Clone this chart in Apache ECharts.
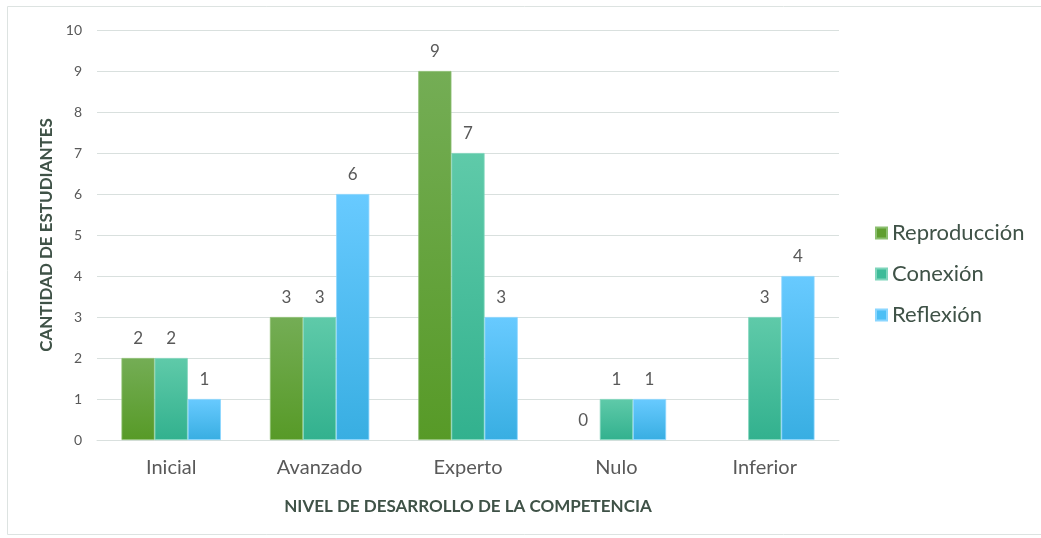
<!DOCTYPE html>
<html><head><meta charset="utf-8">
<script src="https://cdn.jsdelivr.net/npm/echarts@6/dist/echarts.min.js"></script>
<style>html,body{margin:0;padding:0;background:#fff}#c{width:1041px;height:538px}</style>
</head><body><div id="c"></div>
<script>
var categories = ['Inicial', 'Avanzado', 'Experto', 'Nulo', 'Inferior'];
var reproduccion = [2, 3, 9, 0, null];
var conexion = [2, 3, 7, 1, 3];
var reflexion = [1, 6, 3, 1, 4];
var yTicks = [0, 10, 1];

var FONT = 'Lato, "Open Sans", sans-serif';
function grad(top, bottom) {
  return new echarts.graphic.LinearGradient(0, 0, 0, 1, [
    {offset: 0, color: top}, {offset: 1, color: bottom}
  ]);
}
function series(name, data, top, bottom, border) {
  return {
    name: name, type: 'bar', barGap: '0%', barCategoryGap: '33%',
    data: data.map(function (v) {
      return v === 0 ? {value: v, itemStyle: {borderWidth: 0}} : v;
    }),
    itemStyle: {color: grad(top, bottom), borderColor: border, borderWidth: 0.8},
    label: {show: true, position: 'top', distance: 11, color: '#595959', fontSize: 17, fontFamily: FONT}
  };
}
var chart = echarts.init(document.getElementById('c'));
chart.setOption({
  animation: false,
  graphic: [{type: 'rect', shape: {x: 7.5, y: 6.5, width: 1040, height: 528},
    style: {fill: 'none', stroke: '#dde3e1', lineWidth: 1}, silent: true}],
  legend: {
    orient: 'vertical', left: 870, top: 217, itemWidth: 11, itemHeight: 11, itemGap: 19,
    icon: 'rect',
    textStyle: {color: '#3f5247', fontSize: 22, fontFamily: FONT, padding: [0, 0, 0, 0]},
    data: [
      {name: 'Reproducción', itemStyle: {color: '#5f9e2f'}},
      {name: 'Conexión', itemStyle: {color: '#3dbb98'}},
      {name: 'Reflexión', itemStyle: {color: '#4cbff5'}}
    ]
  },
  grid: {left: 97, right: 202, top: 30, bottom: 98, containLabel: false},
  xAxis: {
    type: 'category', data: categories,
    axisLine: {lineStyle: {color: '#d9e0de'}}, axisTick: {show: false},
    axisLabel: {color: '#595959', fontSize: 20, fontFamily: FONT, margin: 18},
    name: 'NIVEL DE DESARROLLO DE LA COMPETENCIA', nameLocation: 'middle', nameGap: 58,
    nameTextStyle: {color: '#3f5247', fontSize: 17, fontWeight: 'bold', fontFamily: FONT}
  },
  yAxis: {
    type: 'value', min: yTicks[0], max: yTicks[1], interval: yTicks[2],
    axisLine: {show: false}, axisTick: {show: false},
    splitLine: {lineStyle: {color: '#d9e0de'}},
    axisLabel: {color: '#595959', fontSize: 14, fontFamily: FONT, margin: 15},
    name: 'CANTIDAD DE ESTUDIANTES', nameLocation: 'middle', nameGap: 42,
    nameTextStyle: {color: '#3f5247', fontSize: 17, fontWeight: 'bold', fontFamily: FONT}
  },
  series: [
    series('Reproducción', reproduccion, '#74ad55', '#579a27', '#8cbf70'),
    series('Conexión', conexion, '#5fcaa9', '#32b18e', '#7fd5bb'),
    series('Reflexión', reflexion, '#68caff', '#38aee2', '#8ad6ff')
  ]
});
</script></body></html>
